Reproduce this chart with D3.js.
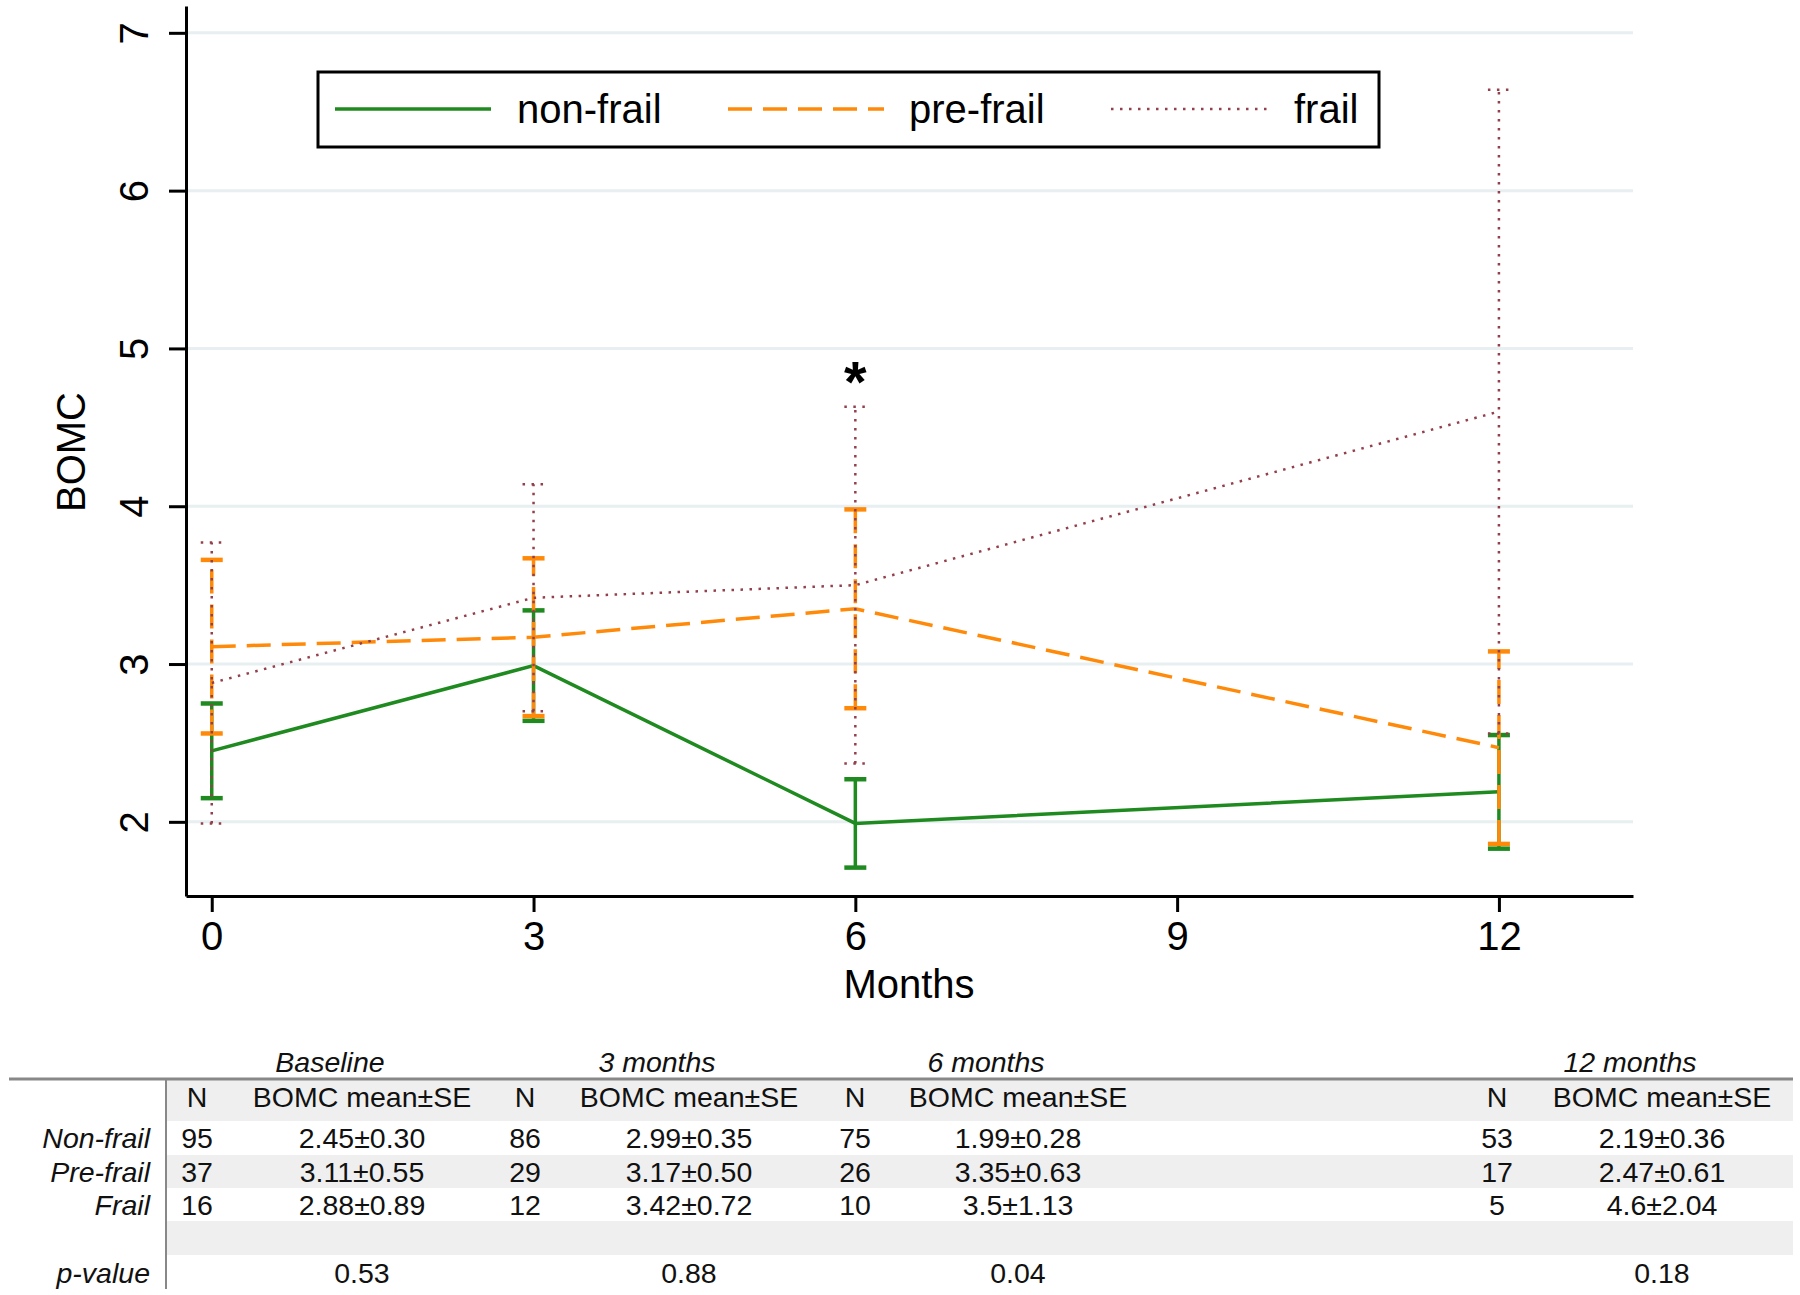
<!DOCTYPE html>
<html>
<head>
<meta charset="utf-8">
<title>BOMC by frailty</title>
<style>
  body { margin: 0; background: #fff; }
  svg { font-family: "Liberation Sans", Arial, sans-serif; }
  .axis path, .axis line { fill: none; stroke: #000; stroke-width: 3; }
  .axis text { font-size: 40px; fill: #000; }
  .tbl text { font-size: 28.5px; fill: #111; }
</style>
</head>
<body>
<script src="https://cdn.jsdelivr.net/npm/d3@7/dist/d3.min.js"></script>
<script>
// data
var months = [0, 3, 6, 12];
var groups = ["non-frail", "pre-frail", "frail"];
var rowLabels = ["Non-frail", "Pre-frail", "Frail"];
var periods = ["Baseline", "3 months", "6 months", "12 months"];

var nonFrailMean = [2.45, 2.99, 1.99, 2.19];
var nonFrailSE   = [0.30, 0.35, 0.28, 0.36];
var preFrailMean = [3.11, 3.17, 3.35, 2.47];
var preFrailSE   = [0.55, 0.50, 0.63, 0.61];
var frailMean    = [2.88, 3.42, 3.5, 4.6];
var frailSE      = [0.89, 0.72, 1.13, 2.04];

var nonFrailN = [95, 86, 75, 53];
var preFrailN = [37, 29, 26, 17];
var frailN    = [16, 12, 10, 5];
var pValues   = ["0.53", "0.88", "0.04", "0.18"];

var yTicks = [2, 3, 4, 5, 6, 7];
var xTicks = [0, 3, 6, 9, 12];

var W = 1800, H = 1295;
var svg = d3.select("body").append("svg")
    .attr("width", W).attr("height", H);

var x = d3.scaleLinear().domain([-0.24, 13.25]).range([186, 1633]);
var y = d3.scaleLinear().domain([1.53, 7.17]).range([896, 6]);

// gridlines
svg.append("g").selectAll("line")
  .data(yTicks).enter().append("line")
  .attr("x1", x.range()[0]).attr("x2", x.range()[1])
  .attr("y1", d => y(d)).attr("y2", d => y(d))
  .attr("stroke", "#e7eff0").attr("stroke-width", 3);

// axes
var yAxis = svg.append("g").attr("class", "axis")
  .attr("transform", "translate(" + x.range()[0] + ",0)")
  .call(d3.axisLeft(y).tickValues(yTicks).tickSize(17).tickSizeOuter(0).tickFormat(d3.format("d")));
yAxis.selectAll("text")
  .attr("x", null).attr("dy", null).attr("y", null)
  .attr("text-anchor", "middle")
  .attr("transform", "translate(-38,0) rotate(-90)");

var xAxis = svg.append("g").attr("class", "axis")
  .attr("transform", "translate(0," + y.range()[0] + ")")
  .call(d3.axisBottom(x).tickValues(xTicks).tickSize(16).tickSizeOuter(0).tickFormat(d3.format("d")));
xAxis.selectAll("text").attr("y", 54).attr("dy", null);

svg.append("text")
  .attr("transform", "translate(85,452) rotate(-90)")
  .attr("text-anchor", "middle")
  .attr("font-size", 40)
  .text("BOMC");
svg.append("text")
  .attr("x", 909).attr("y", 998)
  .attr("text-anchor", "middle")
  .attr("font-size", 40)
  .text("Months");

// series
var styles = [
  { color: "#1f8a1f", dash: null, width: 3.5 },
  { color: "#ff8a0a", dash: "24,11", width: 3.5 },
  { color: "#93404c", dash: "2.5,6.5", width: 2.5 }
];
var means = [nonFrailMean, preFrailMean, frailMean];
var ses = [nonFrailSE, preFrailSE, frailSE];

var line = d3.line().x(d => x(d.m)).y(d => y(d.v));
var capW = 11;

groups.forEach(function (g, gi) {
  var st = styles[gi];
  var pts = months.map((m, i) => ({ m: m, v: means[gi][i], se: ses[gi][i] }));
  var layer = svg.append("g")
    .attr("stroke", st.color)
    .attr("stroke-width", st.width)
    .attr("stroke-dasharray", st.dash)
    .attr("fill", "none");

  layer.append("path").attr("d", line(pts));

  var bars = layer.selectAll(".bar").data(pts).enter().append("g");
  bars.append("line")
    .attr("x1", d => x(d.m)).attr("x2", d => x(d.m))
    .attr("y1", d => y(d.v - d.se)).attr("y2", d => y(d.v + d.se));
  bars.append("line")
    .attr("x1", d => x(d.m) - capW).attr("x2", d => x(d.m) + capW)
    .attr("y1", d => y(d.v + d.se)).attr("y2", d => y(d.v + d.se))
    .attr("stroke-width", gi === 2 ? st.width : 4.5);
  bars.append("line")
    .attr("x1", d => x(d.m) - capW).attr("x2", d => x(d.m) + capW)
    .attr("y1", d => y(d.v - d.se)).attr("y2", d => y(d.v - d.se))
    .attr("stroke-width", gi === 2 ? st.width : 4.5);
});

// significance mark at 6 months
svg.append("text")
  .attr("x", x(6)).attr("y", y(frailMean[2] + frailSE[2]))
  .attr("dy", -5)
  .attr("text-anchor", "middle")
  .attr("font-size", 58).attr("font-weight", "bold")
  .text("*");

// legend
var legend = svg.append("g");
legend.append("rect")
  .attr("x", 318).attr("y", 72).attr("width", 1061).attr("height", 75)
  .attr("fill", "#fff").attr("stroke", "#000").attr("stroke-width", 3);
var legX = [335, 728, 1111];
var legTextX = [517, 909, 1294];
groups.forEach(function (g, gi) {
  var st = styles[gi];
  legend.append("line")
    .attr("x1", legX[gi]).attr("x2", legX[gi] + 156)
    .attr("y1", 109).attr("y2", 109)
    .attr("stroke", st.color).attr("stroke-width", st.width)
    .attr("stroke-dasharray", st.dash);
  legend.append("text")
    .attr("x", legTextX[gi]).attr("y", 123)
    .attr("font-size", 40)
    .text(g);
});

// table below
var tbl = svg.append("g").attr("class", "tbl");
var bandTop = [1079, 1155, 1221];
var bandH = [42, 33, 34];
bandTop.forEach(function (t, i) {
  tbl.append("rect")
    .attr("x", 166).attr("y", t).attr("width", 1627).attr("height", bandH[i])
    .attr("fill", "#efefef");
});
tbl.append("line")
  .attr("x1", 9).attr("x2", 1793).attr("y1", 1079).attr("y2", 1079)
  .attr("stroke", "#888").attr("stroke-width", 3);
tbl.append("line")
  .attr("x1", 166).attr("x2", 166).attr("y1", 1079).attr("y2", 1289)
  .attr("stroke", "#888").attr("stroke-width", 2);

var headX = [330, 657, 986, 1630];
var nX = [197, 525, 855, 1497];
var valX = [362, 689, 1018, 1662];
var rowY = [1148, 1182, 1215];
var ns = [nonFrailN, preFrailN, frailN];

tbl.selectAll(".head").data(periods).enter().append("text")
  .attr("x", (d, i) => headX[i]).attr("y", 1072)
  .attr("text-anchor", "middle").attr("font-style", "italic")
  .text(d => d);

periods.forEach(function (p, i) {
  tbl.append("text").attr("x", nX[i]).attr("y", 1107)
    .attr("text-anchor", "middle").text("N");
  tbl.append("text").attr("x", valX[i]).attr("y", 1107)
    .attr("text-anchor", "middle").text("BOMC mean\u00b1SE");
  tbl.append("text").attr("x", valX[i]).attr("y", 1283)
    .attr("text-anchor", "middle").text(pValues[i]);
});

rowLabels.forEach(function (r, ri) {
  tbl.append("text").attr("x", 150).attr("y", rowY[ri])
    .attr("text-anchor", "end").attr("font-style", "italic").text(r);
  months.forEach(function (m, i) {
    tbl.append("text").attr("x", nX[i]).attr("y", rowY[ri])
      .attr("text-anchor", "middle").text(ns[ri][i]);
    tbl.append("text").attr("x", valX[i]).attr("y", rowY[ri])
      .attr("text-anchor", "middle")
      .text(String(means[ri][i]) + "\u00b1" + ses[ri][i].toFixed(2));
  });
});
tbl.append("text").attr("x", 150).attr("y", 1283)
  .attr("text-anchor", "end").attr("font-style", "italic").text("p-value");
</script>
</body>
</html>
